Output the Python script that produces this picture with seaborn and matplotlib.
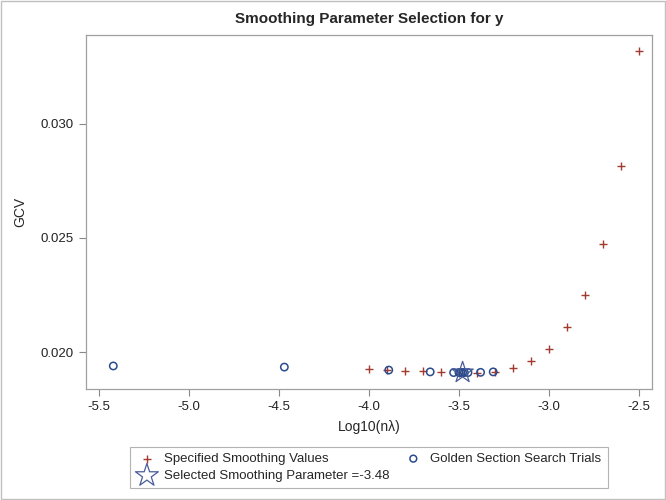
import numpy as np
import pandas as pd
import matplotlib
matplotlib.use("Agg")
import matplotlib.pyplot as plt
import seaborn as sns
from matplotlib.ticker import FormatStrFormatter

# ── Data ──────────────────────────────────────────────────────
spec_x = [-4.0, -3.9, -3.8, -3.7, -3.6, -3.5, -3.4, -3.3, -3.2, -3.1,
          -3.0, -2.9, -2.8, -2.7, -2.6, -2.5]
spec_gcv = [0.01925, 0.01921, 0.01918, 0.01915, 0.01912, 0.01910, 0.01910,
            0.01913, 0.01930, 0.01962, 0.02015, 0.02108, 0.02251, 0.02474,
            0.02815, 0.03318]

gold_x = [-5.42, -4.47, -3.89, -3.66, -3.53, -3.31, -3.45, -3.38,
          -3.50, -3.48, -3.47, -3.49]
gold_gcv = [0.01939, 0.01934, 0.01921, 0.01913, 0.01910, 0.01913, 0.01910,
            0.01911, 0.01910, 0.01910, 0.01910, 0.01910]

sel_x = [-3.48]
sel_gcv = [0.01910]

RED = "#A23A2E"
BLUE = "#2A4B8D"
STAR = "#4A5C9A"

sns.set_style("white")
plt.rcParams["font.family"] = ["Liberation Sans", "DejaVu Sans"]

spec = pd.DataFrame({"x": spec_x, "gcv": spec_gcv})
gold = pd.DataFrame({"x": gold_x, "gcv": gold_gcv})
sel = pd.DataFrame({"x": sel_x, "gcv": sel_gcv})

fig = plt.figure(figsize=(6.66, 5.0), dpi=100)
ax = fig.add_axes([0.129, 0.222, 0.850, 0.708])

sns.scatterplot(data=spec, x="x", y="gcv", marker="+", s=36, color=RED,
                linewidth=1.0, ax=ax, label="Specified Smoothing Values")
sns.scatterplot(data=gold, x="x", y="gcv", marker="o", s=28,
                facecolors="none", edgecolor=BLUE, linewidth=1.1, ax=ax,
                label="Golden Section Search Trials")
sns.scatterplot(data=sel, x="x", y="gcv", marker="*", s=260,
                facecolors="none", edgecolor=STAR, linewidth=0.9, ax=ax,
                label="Selected Smoothing Parameter =-3.48")

ax.set_xlim(-5.572, -2.428)
ax.set_ylim(0.01838, 0.03389)
ax.set_xticks([-5.5, -5.0, -4.5, -4.0, -3.5, -3.0, -2.5])
ax.set_yticks([0.020, 0.025, 0.030])
ax.xaxis.set_major_formatter(FormatStrFormatter("%.1f"))
ax.yaxis.set_major_formatter(FormatStrFormatter("%.3f"))
ax.tick_params(axis="both", direction="out", length=5, width=0.8,
               color="#888888", labelsize=9.5, labelcolor="#222222",
               bottom=True, left=True)
for sp in ax.spines.values():
    sp.set_color("#A0A0A0")
    sp.set_linewidth(0.9)

ax.set_xlabel("Log10(nλ)", fontsize=10, labelpad=5)
ax.set_ylabel("GCV", fontsize=10, labelpad=10)
ax.set_title("Smoothing Parameter Selection for y", fontsize=11,
             fontweight="bold", pad=9)

# legend order: plus, star (col 1), circle (col 2)
h, l = ax.get_legend_handles_labels()
order = [0, 2, 1]
leg = ax.legend([h[i] for i in order], [l[i] for i in order], ncol=2,
                loc="upper center", bbox_to_anchor=(0.5, -0.145),
                frameon=True, fancybox=False, fontsize=9.5,
                columnspacing=1.0, handletextpad=0.5, borderpad=0.45,
                labelspacing=0.35, handlelength=1.6)
leg.get_frame().set_edgecolor("#A0A0A0")
leg.get_frame().set_linewidth(0.8)
leg_sizes = [30, 300, 24]
for hd, sz in zip(leg.legend_handles, leg_sizes):
    hd.set_sizes([sz])

# outer figure border
fig.patches.append(plt.Rectangle((0.002, 0.002), 0.996, 0.996,
                                 transform=fig.transFigure, fill=False,
                                 edgecolor="#C0C0C0", linewidth=1.0))

fig.savefig("out.png", dpi=100)
